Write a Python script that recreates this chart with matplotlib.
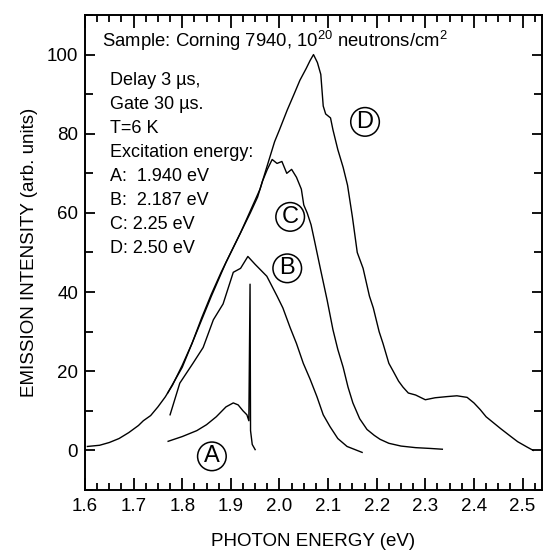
import matplotlib
matplotlib.use("Agg")
import matplotlib.pyplot as plt
from matplotlib.ticker import MultipleLocator

plt.rcParams['font.family'] = ['Liberation Sans', 'DejaVu Sans']
plt.rcParams['mathtext.fontset'] = 'custom'
plt.rcParams['mathtext.rm'] = 'Liberation Sans'
plt.rcParams['mathtext.it'] = 'Liberation Sans'

# spectra (photon energy in eV, intensity in arb. units)
eA = [1.771, 1.80, 1.83, 1.85, 1.87, 1.89, 1.905, 1.915, 1.925, 1.933, 1.937,
      1.9395, 1.9405, 1.944, 1.95]
iA = [2.3, 3.5, 5.0, 6.5, 8.5, 11.0, 12.0, 11.5, 10.0, 9.0, 7.5,
      42.0, 5.0, 1.5, 0.2]

eB = [1.775, 1.795, 1.822, 1.843, 1.864, 1.884, 1.905, 1.92, 1.935, 1.95,
      1.974, 1.995, 2.007, 2.022, 2.035, 2.049, 2.063, 2.077, 2.09, 2.104,
      2.12, 2.139, 2.17]
iB = [9.0, 17.0, 22.0, 26.0, 33.0, 37.0, 45.0, 46.0, 49.0, 47.0,
      44.0, 39.0, 36.0, 31.0, 27.0, 22.0, 18.0, 13.6, 9.0, 6.0,
      3.0, 1.0, -0.5]

eC = [1.77, 1.80, 1.83, 1.86, 1.89, 1.92, 1.94, 1.955, 1.965, 1.975, 1.985,
      1.995, 2.005, 2.015, 2.025, 2.035, 2.045, 2.05, 2.057, 2.065, 2.072,
      2.084, 2.098, 2.11, 2.12, 2.131, 2.141, 2.151, 2.165, 2.18, 2.195,
      2.207, 2.225, 2.25, 2.28, 2.31, 2.335]
iC = [14.5, 21.0, 30.0, 39.0, 47.5, 55.0, 60.0, 64.0, 68.0, 71.0, 73.5,
      72.5, 73.0, 70.0, 71.0, 69.0, 66.0, 62.0, 60.0, 57.0, 53.0,
      46.0, 38.0, 30.5, 25.5, 21.0, 16.0, 12.0, 8.0, 5.3, 3.8,
      2.8, 1.8, 1.1, 0.7, 0.5, 0.3]

eD = [1.605, 1.63, 1.65, 1.67, 1.69, 1.71, 1.72, 1.735, 1.75, 1.765, 1.78,
      1.80, 1.82, 1.84, 1.86, 1.88, 1.90, 1.92, 1.94, 1.96, 1.975, 1.99,
      2.00, 2.016, 2.03, 2.042, 2.055, 2.063, 2.07, 2.078, 2.085, 2.09,
      2.095, 2.105, 2.11, 2.12, 2.131, 2.14, 2.15, 2.16, 2.172, 2.185,
      2.193, 2.205, 2.213, 2.225, 2.234, 2.245, 2.254, 2.265, 2.28, 2.30,
      2.32, 2.345, 2.365, 2.386, 2.40, 2.413, 2.425, 2.44, 2.455, 2.475,
      2.49, 2.51, 2.522]
iD = [1.0, 1.3, 2.0, 3.0, 4.5, 6.3, 7.5, 8.8, 11.0, 13.5, 16.5,
      21.5, 27.0, 33.5, 39.5, 45.0, 50.0, 55.0, 60.5, 66.0, 72.0, 78.0,
      81.0, 86.0, 90.0, 93.5, 96.5, 98.5, 100.0, 98.0, 95.0, 87.0,
      85.0, 84.0, 81.0, 76.0, 71.5, 67.0, 59.0, 50.0, 46.0, 39.0,
      36.0, 30.0, 27.0, 22.0, 20.0, 17.5, 16.0, 14.5, 14.0, 12.8,
      13.3, 13.6, 13.8, 13.4, 12.0, 10.3, 8.5, 7.0, 5.5, 3.6,
      2.2, 0.8, 0.0]

curve_tags = ['A', 'B', 'C', 'D']
tag_pos = [(1.861, -1.5), (2.016, 46.0), (2.022, 59.0), (2.176, 83.0)]

info_lines = ['Delay 3 \u00b5s,', 'Gate 30 \u00b5s.', 'T=6 K', 'Excitation energy:',
              'A:  1.940 eV', 'B:  2.187 eV', 'C: 2.25 eV', 'D: 2.50 eV']

fig = plt.figure(figsize=(5.48, 5.52), dpi=100)
ax = fig.add_axes([85 / 548, 1 - 490 / 552, 457 / 548, 475 / 552])

for e, i in [(eA, iA), (eB, iB), (eC, iC), (eD, iD)]:
    ax.plot(e, i, color='black', lw=1.0)

for tag, (x, y) in zip(curve_tags, tag_pos):
    ax.text(x, y, tag, fontsize=17, ha='center', va='center',
            bbox=dict(boxstyle='circle,pad=0.14', fc='none', ec='black', lw=1.1))

ax.text(1.635, 102, 'Sample: Corning 7940, 10$^{20}$ neutrons/cm$^{2}$', fontsize=13.3)
for k, line in enumerate(info_lines):
    ax.text(1.651, 92.2 - 6.03 * k, line, fontsize=13)

ax.set_xlim(1.6, 2.54)
ax.set_ylim(-10, 110)
ax.xaxis.set_major_locator(MultipleLocator(0.1))
ax.xaxis.set_minor_locator(MultipleLocator(0.025))
ax.yaxis.set_major_locator(MultipleLocator(20))
ax.yaxis.set_minor_locator(MultipleLocator(10))
ax.tick_params(which='both', direction='in', top=True, right=True, labelsize=13.5,
               width=1.3, color='black')
ax.tick_params(axis='x', which='major', length=9, pad=6)
ax.tick_params(axis='x', which='minor', length=5)
ax.tick_params(axis='y', which='major', length=7, pad=5)
ax.tick_params(axis='y', which='minor', length=6)
for s in ax.spines.values():
    s.set_linewidth(1.4)

ax.set_xlabel('PHOTON ENERGY (eV)', fontsize=13.5, labelpad=13)
ax.set_ylabel('EMISSION INTENSITY (arb. units)', fontsize=13.5, labelpad=6)

fig.savefig('out.png', dpi=100)
